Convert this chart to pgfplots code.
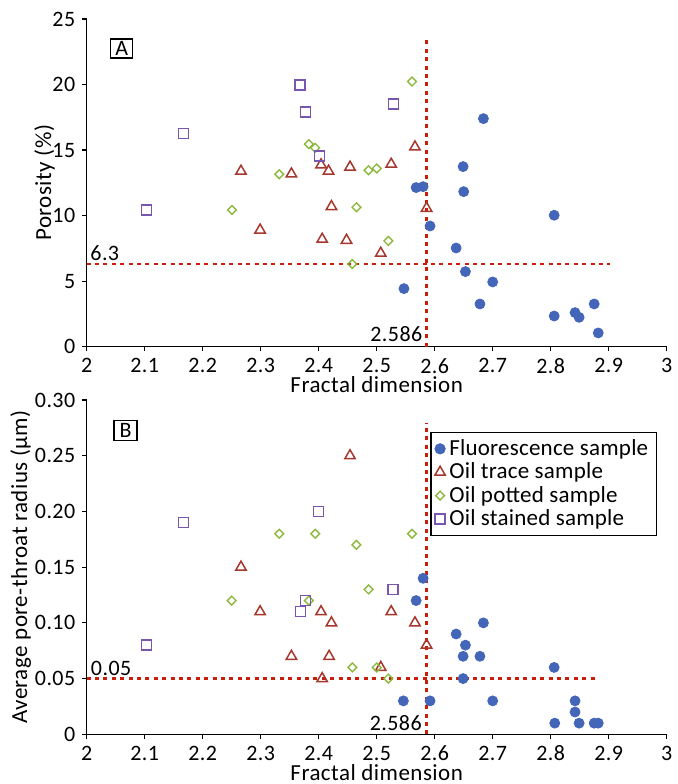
\documentclass[border=0pt]{standalone}
\usepackage{fontspec}
\setmainfont{Carlito}[LetterSpace=2]
\usepackage{pgfplots}
\pgfplotsset{compat=1.18}

\definecolor{cfl}{RGB}{68,102,184}
\definecolor{ctr}{RGB}{165,55,45}
\definecolor{cpo}{RGB}{140,185,60}
\definecolor{cst}{RGB}{120,85,175}
\definecolor{cdash}{RGB}{200,30,10}

\pgfplotsset{
  panel/.style={
    scale only axis, width=290pt,
    xmin=2, xmax=3,
    xtick={2,2.1,...,3.01},
    xticklabels={2,2.1,2.2,2.3,2.4,2.5,2.6,2.7,2.8,2.9,3},
    axis lines*=left, clip=false,
    tick align=outside, major tick length=2.2pt,
    axis line style={line width=0.6pt}, tick style={line width=0.6pt, black},
    tick label style={font=\fontsize{11}{13}\selectfont},
    label style={font=\fontsize{11.5}{13.5}\selectfont},
    /pgf/number format/assume math mode=true,
    xlabel={Fractal dimension},
    xlabel style={yshift=3pt, inner sep=1pt},
  },
  fl/.style={only marks, mark=*, mark size=2.5pt, cfl, mark options={fill=cfl, draw=cfl}},
  tr/.style={only marks, mark=triangle, mark size=3pt, ctr, mark options={line width=0.75pt}},
  po/.style={only marks, mark=square, mark size=1.55pt, cpo, mark options={rotate=45, line width=0.7pt}},
  st/.style={only marks, mark=square, mark size=2.5pt, cst, mark options={line width=0.75pt}},
  dl/.style={cdash, line width=1.1pt, dash pattern=on 2pt off 2.2pt, forget plot},
}

\begin{document}
\begin{tikzpicture}
\useasboundingbox (0,0) rectangle (339pt,392pt);

% Panel A
\begin{axis}[panel, at={(43.35pt,218.65pt)}, anchor=south west,
  height=163.85pt, ymin=0, ymax=25, ytick={0,5,...,25},
  ylabel={Porosity (\%)}, ylabel style={yshift=-8pt}]
\addplot[dl] coordinates {(2,6.3) (2.902,6.3)};
\addplot[dl] coordinates {(2.586,0) (2.586,23.6)};
\addplot[fl] coordinates {
(2.568,12.14) (2.580,12.21) (2.592,9.21) (2.547,4.43) (2.684,17.40)
(2.649,13.74) (2.650,11.83) (2.637,7.53) (2.653,5.73) (2.700,4.94)
(2.678,3.26) (2.806,10.03) (2.806,2.34) (2.842,2.60) (2.849,2.24)
(2.875,3.26) (2.882,1.05)};
\addplot[tr] coordinates {
(2.266,13.39) (2.299,8.90) (2.353,13.18) (2.404,13.87) (2.417,13.39)
(2.422,10.69) (2.406,8.20) (2.448,8.12) (2.454,13.70) (2.507,7.13)
(2.525,13.92) (2.566,15.24) (2.586,10.56)};
\addplot[po] coordinates {
(2.2505,10.43) (2.332,13.16) (2.383,15.45) (2.394,15.17) (2.465,10.64)
(2.458,6.31) (2.486,13.46) (2.500,13.60) (2.561,20.23) (2.520,8.07)};
\addplot[st] coordinates {
(2.103,10.43) (2.167,16.26) (2.368,19.95) (2.377,17.90) (2.401,14.56)
(2.529,18.50)};
\node[font=\fontsize{11}{13}\selectfont, anchor=south west, inner sep=0.5pt] at (axis cs:2.004,6.45) {6.3};
\node[font=\fontsize{11}{13}\selectfont, anchor=south east, inner sep=0.5pt] at (axis cs:2.581,0.25) {2.586};
\node[font=\fontsize{11}{13}\selectfont, draw, line width=0.6pt, inner sep=1.2pt, minimum width=11pt, minimum height=9.5pt] at (axis cs:2.0605,22.75) {A};
\end{axis}

% Panel B
\begin{axis}[panel, at={(43.35pt,24.85pt)}, anchor=south west,
  height=167.15pt, ymin=0, ymax=0.30, ytick={0,0.05,...,0.31},
  yticklabels={0,0.05,0.10,0.15,0.20,0.25,0.30},
  ylabel={Average pore-throat radius (µm)}, ylabel style={yshift=-5pt},
  legend style={at={(0.983,0.905)}, anchor=north east, draw=black, line width=0.6pt,
    font=\fontsize{11.5}{13.5}\selectfont\addfontfeatures{LetterSpace=1},
    cells={anchor=west}, inner xsep=2pt, inner ysep=1.5pt,
    row sep=-1.8pt},
  legend image code/.code={\draw[mark repeat=2,mark phase=2] plot coordinates {(0cm,0cm) (0.1cm,0cm) (0.2cm,0cm)};}]
\addplot[dl] coordinates {(2,0.05) (2.88,0.05)};
\addplot[dl] coordinates {(2.586,0) (2.586,0.279)};
\addplot[fl] coordinates {
(2.580,0.14) (2.568,0.12) (2.637,0.09) (2.684,0.10) (2.653,0.08)
(2.649,0.07) (2.678,0.07) (2.806,0.06) (2.649,0.05) (2.546,0.03)
(2.592,0.03) (2.700,0.03) (2.842,0.03) (2.842,0.02) (2.807,0.01)
(2.849,0.01) (2.875,0.01) (2.882,0.01)};
\addplot[tr] coordinates {
(2.266,0.15) (2.299,0.11) (2.353,0.07) (2.404,0.11) (2.422,0.10)
(2.418,0.07) (2.406,0.05) (2.454,0.25) (2.507,0.06) (2.525,0.11)
(2.566,0.10) (2.586,0.08)};
\addplot[po] coordinates {
(2.250,0.12) (2.332,0.18) (2.394,0.18) (2.383,0.12) (2.465,0.17)
(2.486,0.13) (2.458,0.06) (2.500,0.06) (2.561,0.18) (2.520,0.05)};
\addplot[st] coordinates {
(2.103,0.08) (2.167,0.19) (2.400,0.20) (2.377,0.12) (2.369,0.11)
(2.528,0.13)};
\legend{Fluorescence sample, Oil trace sample, Oil potted sample, Oil stained sample}
\node[font=\fontsize{11}{13}\selectfont, anchor=south west, inner sep=0.5pt] at (axis cs:2.005,0.0515) {0.05};
\node[font=\fontsize{11}{13}\selectfont, anchor=south east, inner sep=0.5pt] at (axis cs:2.58,0.002) {2.586};
\node[font=\fontsize{11}{13}\selectfont, draw, line width=0.6pt, inner sep=1.2pt, minimum width=11.5pt, minimum height=10pt] at (axis cs:2.0669,0.2724) {B};
\end{axis}
\end{tikzpicture}
\end{document}
